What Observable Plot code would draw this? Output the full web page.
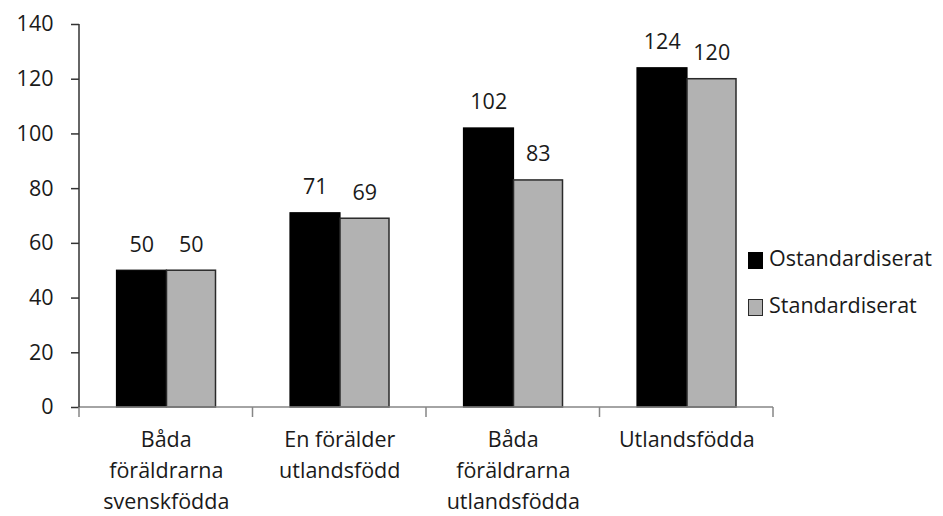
<!DOCTYPE html>
<html>
<head>
<meta charset="utf-8">
<script src="https://cdn.jsdelivr.net/npm/d3@7"></script>
<script src="https://cdn.jsdelivr.net/npm/@observablehq/plot@0.6"></script>
<style>
  html, body { margin: 0; padding: 0; background: #fff; }
  #chart { position: relative; width: 943px; height: 516px; font-family: "Open Sans", sans-serif; }
  #legend { position: absolute; left: 748px; top: 245px; font-size: 21.5px; color: #1a1a1a; }
  .row { display: flex; align-items: center; height: 30px; line-height: 30px; margin-bottom: 17px; white-space: nowrap; }
  .sw { width: 15px; height: 17px; box-sizing: border-box; border: 1.5px solid #2a2a2a; margin-right: 6px; }
  .lbl { position: relative; top: -2px; }
</style>
</head>
<body>
<div id="chart"><div id="legend"></div></div>
<script>
// ---- data ----
const categories = [
  "Båda\nföräldrarna\nsvenskfödda",
  "En förälder\nutlandsfödd",
  "Båda\nföräldrarna\nutlandsfödda",
  "Utlandsfödda"
];
const series = ["Ostandardiserat", "Standardiserat"];
const ostandardiserat = [50, 71, 102, 124];
const standardiserat = [50, 69, 83, 120];
const seriesColors = ["#000000", "#b2b2b2"];
const yTicks = [0, 20, 40, 60, 80, 100, 120, 140];

const rowsA = categories.map((c, i) => ({category: c, series: series[0], value: ostandardiserat[i]}));
const rowsB = categories.map((c, i) => ({category: c, series: series[1], value: standardiserat[i]}));

const FS = 21.5;

// axis lines and boundary ticks drawn from the plot's own scales
function axisFrame(index, scales, values, dimensions) {
  const x = scales.x, y = scales.y;
  const bw = typeof x.bandwidth === "function" ? x.bandwidth() : x.bandwidth;
  const g = d3.create("svg:g");
  const y0 = y(0);
  const xl = dimensions.marginLeft;
  const xr = dimensions.width - dimensions.marginRight;
  g.append("line")
    .attr("x1", xl).attr("x2", xr).attr("y1", y0).attr("y2", y0)
    .attr("stroke", "#868686").attr("stroke-width", 1.5);
  const bounds = categories.map(c => x(c)).concat([x(categories[categories.length - 1]) + bw]);
  g.selectAll("line.b").data(bounds).join("line").attr("class", "b")
    .attr("x1", d => d).attr("x2", d => d).attr("y1", y0).attr("y2", y0 + 10)
    .attr("stroke", "#868686").attr("stroke-width", 1.5);
  g.append("line")
    .attr("x1", xl).attr("x2", xl).attr("y1", y(yTicks[0])).attr("y2", y(yTicks[yTicks.length - 1]))
    .attr("stroke", "#333").attr("stroke-width", 1.5);
  return g.node();
}

const plot = Plot.plot({
  width: 943,
  height: 516,
  marginLeft: 79,
  marginRight: 170,
  marginTop: 24,
  marginBottom: 109,
  style: { fontFamily: "Open Sans, sans-serif", fontSize: FS + "px", color: "#1a1a1a", background: "white" },
  x: { domain: categories, padding: 0, round: false, label: null },
  y: { domain: [0, 140], label: null },
  marks: [
    Plot.barY(rowsA, { x: "category", y: "value", fill: seriesColors[0], stroke: "#000", strokeWidth: 1.2, insetLeft: 37.5, insetRight: 86 }),
    Plot.barY(rowsB, { x: "category", y: "value", fill: seriesColors[1], stroke: "#2a2a2a", strokeWidth: 1.5, insetLeft: 87.5, insetRight: 37 }),
    Plot.text(rowsA, { x: "category", y: "value", text: d => String(d.value), dx: -24.5, dy: -19, lineAnchor: "bottom", fontSize: FS, fill: "#1a1a1a" }),
    Plot.text(rowsB, { x: "category", y: "value", text: d => String(d.value), dx: 25, dy: -19, lineAnchor: "bottom", fontSize: FS, fill: "#1a1a1a" }),
    Plot.axisY({ ticks: yTicks, tickSize: 8, tickPadding: 18, fontSize: FS, stroke: "#333", strokeWidth: 1.5, label: null }),
    Plot.axisX({ tickSize: 0, tickPadding: 18.3, lineHeight: 1.42, fontSize: FS, label: null }),
    axisFrame
  ]
});
document.getElementById("chart").prepend(plot);

// legend
const legend = document.getElementById("legend");
series.forEach((s, i) => {
  const row = document.createElement("div");
  row.className = "row";
  const sw = document.createElement("div");
  sw.className = "sw";
  sw.style.background = seriesColors[i];
  if (i === 0) sw.style.borderColor = "#000";
  const lbl = document.createElement("span");
  lbl.className = "lbl";
  lbl.textContent = s;
  row.appendChild(sw);
  row.appendChild(lbl);
  legend.appendChild(row);
});
</script>
</body>
</html>
